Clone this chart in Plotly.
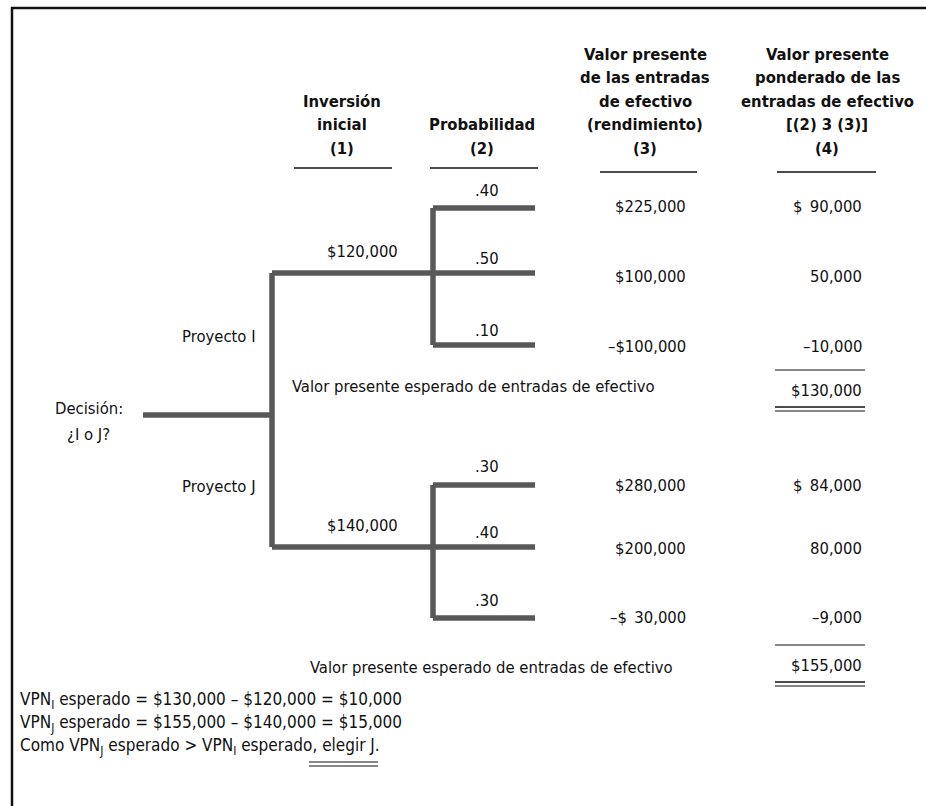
import plotly.graph_objects as go

# --- data ---
projects = ["I", "J"]
investments = [120000, 140000]
probabilities = [[0.40, 0.50, 0.10], [0.30, 0.40, 0.30]]
returns = [[225000, 100000, -100000], [280000, 200000, -30000]]
weighted = [[90000, 50000, -10000], [84000, 80000, -9000]]
expected = [130000, 155000]
npv = [10000, 15000]

# --- page geometry (pixel coordinates, y grows downward) ---
W, H = 926, 806
FONT = "DejaVu Sans Condensed, Liberation Sans Narrow, sans-serif"
TXT = "#111111"
TREE = "#585858"
branch_y = [[208, 273, 345], [485, 547, 618]]
project_y = [273, 547]
label_y = [[190, 258, 330], [466, 532, 600]]
value_y = [[206, 276, 346], [485, 548, 617]]
total_y = [390, 665]
total_label = [(290, 386), (308, 667)]
trunk_x, fan_x, end_x = 272, 433, 535
col3_right, col4_right = 688, 864


def dash(v):
    return "–" if v < 0 else ""


fig = go.Figure()
annotations = []
shapes = []


def text(x, y, s, anchor="center", size=16.5, bold=False):
    annotations.append(dict(
        x=x, y=y, text=f"<b>{s}</b>" if bold else s, xanchor=anchor, yanchor="middle",
        showarrow=False, font=dict(family=FONT, size=size, color=TXT)))


def hline(x0, x1, y, width=1.2, color=TXT):
    shapes.append(dict(type="line", x0=x0, x1=x1, y0=y, y1=y,
                       line=dict(color=color, width=width)))


def tree_line(xs, ys):
    fig.add_trace(go.Scatter(x=xs, y=ys, mode="lines", hoverinfo="skip", showlegend=False,
                             line=dict(color=TREE, width=5.5)))


# frame
hline(11, W, 8, width=2.5)
shapes.append(dict(type="line", x0=12, x1=12, y0=7, y1=H, line=dict(color=TXT, width=2.5)))

# headers
headers = [
    (342, ["Inversión", "inicial", "(1)"], (294, 392, 168)),
    (482, ["Probabilidad", "(2)"], (430, 538, 168)),
    (645, ["Valor presente", "de las entradas", "de efectivo", "(rendimiento)", "(3)"], (600, 697, 172)),
    (827, ["Valor presente", "ponderado de las", "entradas de efectivo", "[(2) 3 (3)]", "(4)"], (777, 876, 172)),
]
for cx, lines, (u0, u1, uy) in headers:
    n = len(lines)
    for i, ln in enumerate(lines):
        text(cx, 148 - (n - 1 - i) * 23.5, ln, size=16.5, bold=True)
    hline(u0, u1, uy, width=1.6)

# decision node
text(89, 408, "Decisión:")
text(88, 434, "¿I o J?")
tree_line([143, trunk_x], [415, 415])
tree_line([trunk_x, trunk_x], [project_y[0], project_y[1]])

for p in range(len(projects)):
    py = project_y[p]
    tree_line([trunk_x, fan_x], [py, py])
    tree_line([fan_x, fan_x], [branch_y[p][0], branch_y[p][-1]])
    for k in range(3):
        tree_line([fan_x, end_x], [branch_y[p][k], branch_y[p][k]])
        text(487, label_y[p][k], f"{probabilities[p][k]:.2f}"[1:])
        r = returns[p][k]
        s3 = f"{dash(r)}${abs(r):,}" if abs(r) >= 100000 else f"{dash(r)}$\u2002{abs(r):,}"
        text(col3_right, value_y[p][k], s3, anchor="right")
        w = weighted[p][k]
        s4 = f"$\u2002{w:,}" if k == 0 else f"{dash(w)}{abs(w):,}"
        text(col4_right, value_y[p][k], s4, anchor="right")
    text(362, py - 22, f"${investments[p]:,}")
    text(258, [336, 486][p], f"Proyecto {projects[p]}", anchor="right")
    lx, ly = total_label[p]
    text(lx, ly, "Valor presente esperado de entradas de efectivo", anchor="left")
    text(col4_right, total_y[p], f"${expected[p]:,}", anchor="right")
    hline(775, 865, total_y[p] - 20)
    hline(775, 865, total_y[p] + 17, width=1.5)
    hline(775, 865, total_y[p] + 21, width=1)

# conclusion
text(18, 700, f"VPN<sub>I</sub> esperado = ${expected[0]:,} – ${investments[0]:,} = ${npv[0]:,}", anchor="left", size=17)
text(18, 723, f"VPN<sub>J</sub> esperado = ${expected[1]:,} – ${investments[1]:,} = ${npv[1]:,}", anchor="left", size=17)
text(18, 746, "Como VPN<sub>J</sub> esperado > VPN<sub>I</sub> esperado, elegir J.", anchor="left", size=17)
hline(309, 378, 762, width=1.2)
hline(309, 378, 766, width=1)

fig.update_layout(
    width=W, height=H, margin=dict(l=0, r=0, t=0, b=0),
    paper_bgcolor="white", plot_bgcolor="white",
    xaxis=dict(range=[0, W], visible=False, fixedrange=True),
    yaxis=dict(range=[H, 0], visible=False, fixedrange=True),
    annotations=annotations, shapes=shapes,
)
fig.write_html("out.html", config={"displayModeBar": False},
               post_script="document.body.style.margin='0';")
